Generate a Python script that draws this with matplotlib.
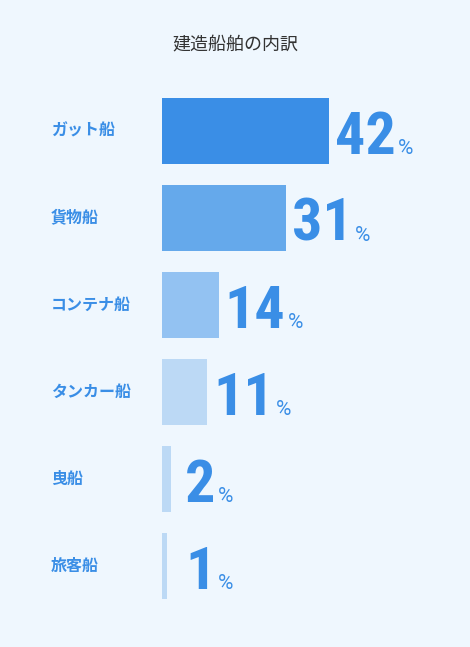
import matplotlib
matplotlib.use('Agg')
import matplotlib.pyplot as plt
import matplotlib.transforms as mtransforms

# ship categories and share (%)
categories = ['ガット船', '貨物船', 'コンテナ船', 'タンカー船', '曳船', '旅客船']
shares = [42, 31, 14, 11, 2, 1]
bar_colors = ['#3a8ee6', '#65a9eb', '#93c2f2', '#bcd9f5', '#bcd9f5', '#bcd9f5']
title = '建造船舶の内訳'

bg = '#eff7fe'
blue = '#3a8ee6'

plt.rcParams['font.family'] = ['Noto Sans CJK JP', 'DejaVu Sans']

dpi = 72
fig = plt.figure(figsize=(470 / dpi, 647 / dpi), dpi=dpi, facecolor=bg)
ax = fig.add_axes([161.5 / 470, 0, 308.5 / 470, 1])
ax.set_facecolor(bg)

ypos = list(range(len(categories)))
ax.barh(ypos, shares, height=0.735, left=0, color=bar_colors,
		edgecolor=bar_colors, linewidth=3)
ax.set_xlim(0, 308.5 / 3.95)
ax.set_ylim((647 - 130.5) / 87, -130.5 / 87)
ax.axis('off')

num_font = ['Roboto Condensed', 'DejaVu Sans']
pct_font = ['Roboto', 'DejaVu Sans']
lab_tr = mtransforms.blended_transform_factory(fig.transFigure, ax.transData)
for i, (cat, v) in enumerate(zip(categories, shares)):
	ax.text(51 / 470, i, cat, transform=lab_tr, ha='left', va='center',
			fontsize=16, color=blue, fontweight='bold')
	num = ax.annotate(str(v), xy=(max(v, 4.0), i), xytext=(8, -23.5),
					  textcoords='offset points', ha='left', va='baseline',
					  fontsize=60, fontweight='bold', fontstretch='condensed',
					  color=blue, family=num_font)
	ax.annotate('%', xy=(1, i), xycoords=(num, 'data'), xytext=(2, -23.5),
				textcoords='offset points', ha='left', va='baseline',
				fontsize=21, color=blue, family=pct_font)

fig.text(0.5, 1 - 44 / 647, title, ha='center', va='center', fontsize=18, color='#333333')

fig.savefig('out.png', dpi=dpi, facecolor=bg)
